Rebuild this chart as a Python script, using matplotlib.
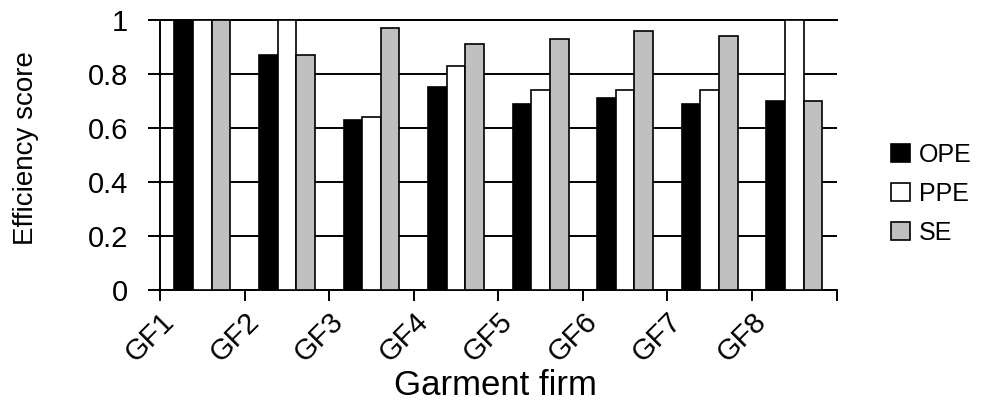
import matplotlib
matplotlib.use("Agg")
import matplotlib.pyplot as plt
import numpy as np

plt.rcParams['font.family'] = ['Liberation Sans', 'DejaVu Sans']

firms = ['GF1', 'GF2', 'GF3', 'GF4', 'GF5', 'GF6', 'GF7', 'GF8']
ope = [1.00, 0.87, 0.63, 0.75, 0.69, 0.71, 0.69, 0.70]
ppe = [1.00, 1.00, 0.64, 0.83, 0.74, 0.74, 0.74, 1.00]
se = [1.00, 0.87, 0.97, 0.91, 0.93, 0.96, 0.94, 0.70]

fig = plt.figure(figsize=(9.98, 4.08), dpi=100)
ax = fig.add_axes([0.1603, 0.2892, 0.678, 0.662])

x = np.arange(len(firms))
w = 0.22
ax.bar(x - w, ope, w, color='black', edgecolor='black', linewidth=1.2, label='OPE', zorder=3)
ax.bar(x, ppe, w, color='white', edgecolor='black', linewidth=1.2, label='PPE', zorder=3)
ax.bar(x + w, se, w, color='#c0c0c0', edgecolor='black', linewidth=1.2, label='SE', zorder=3)

ax.set_xlim(-0.5, len(firms) - 0.5)
ax.set_ylim(0, 1)
ax.set_yticks([0, 0.2, 0.4, 0.6, 0.8, 1.0])
ax.set_yticklabels(['0', '0.2', '0.4', '0.6', '0.8', '1'], fontsize=21)
ax.yaxis.grid(True, color='black', linewidth=1.4, zorder=0)
ax.set_axisbelow(True)

# tick marks at group boundaries, labels drawn separately
ax.set_xticks(np.arange(len(firms) + 1) - 0.5)
ax.set_xticklabels([])
ax.tick_params(axis='x', direction='out', length=8, width=1.4)
ax.tick_params(axis='y', direction='out', length=9, width=1.4, pad=14)

ax.spines['right'].set_visible(False)
ax.spines['top'].set_linewidth(1.4)
ax.spines['left'].set_linewidth(1.4)
ax.spines['bottom'].set_linewidth(1.4)

for i, f in enumerate(firms):
    ax.text(i - 0.5, -0.065, f, rotation=45, ha='right', va='top',
            rotation_mode='anchor', fontsize=21, transform=ax.get_xaxis_transform())

fig.text(26 / 998, 1 - 148 / 408, 'Efficiency score', rotation=90, ha='center', va='center',
         fontsize=20)
fig.text(0.496, 0.054, 'Garment firm', ha='center', va='center', fontsize=25)

fig.legend(loc='center left', bbox_to_anchor=(0.893, 0.5245), frameon=False, fontsize=18,
           handlelength=0.75, handleheight=0.75, handletextpad=0.35, labelspacing=0.6,
           borderpad=0, borderaxespad=0)

fig.savefig('out.png', dpi=100)
